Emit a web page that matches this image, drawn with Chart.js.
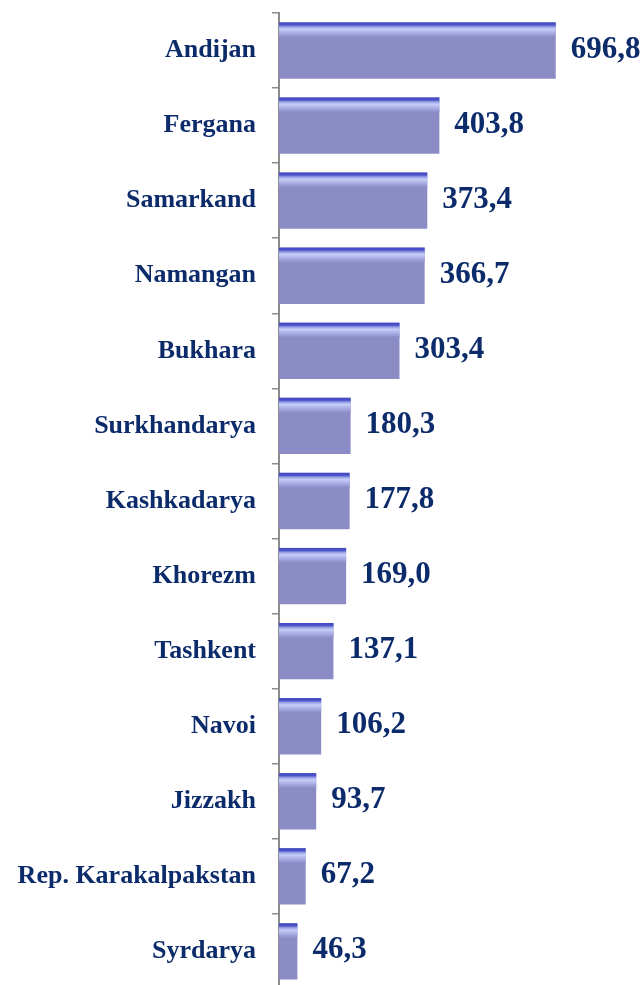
<!DOCTYPE html>
<html>
<head>
<meta charset="utf-8">
<script src="https://cdn.jsdelivr.net/npm/chart.js@4/dist/chart.umd.min.js"></script>
<style>
  html, body { margin: 0; padding: 0; background: #fff; overflow: hidden; }
  #wrap { width: 644px; height: 990px; position: relative; }
</style>
</head>
<body>
<div id="wrap"><canvas id="c"></canvas></div>
<script>
const categories = ["Andijan", "Fergana", "Samarkand", "Namangan", "Bukhara", "Surkhandarya", "Kashkadarya", "Khorezm", "Tashkent", "Navoi", "Jizzakh", "Rep. Karakalpakstan", "Syrdarya"];
const values = [696.8, 403.8, 373.4, 366.7, 303.4, 180.3, 177.8, 169.0, 137.1, 106.2, 93.7, 67.2, 46.3];
const valueLabels = ["696,8", "403,8", "373,4", "366,7", "303,4", "180,3", "177,8", "169,0", "137,1", "106,2", "93,7", "67,2", "46,3"];

const MAIN = '#8b8bc5';
const NAVY = '#0c2b6b';

const barShine = {
  id: 'barShine',
  afterDatasetsDraw(chart) {
    const ctx = chart.ctx;
    const meta = chart.getDatasetMeta(0);
    meta.data.forEach((el, i) => {
      const p = el.getProps(['x', 'y', 'base', 'height'], true);
      const top = p.y - p.height / 2;
      const h = 15;
      const g = ctx.createLinearGradient(0, top, 0, top + h);
      g.addColorStop(0, '#3f46c2');
      g.addColorStop(0.17, '#4c54c8');
      g.addColorStop(0.3, '#9aa2e6');
      g.addColorStop(0.45, '#c6cef7');
      g.addColorStop(0.65, '#aeb4ea');
      g.addColorStop(1, MAIN);
      ctx.save();
      ctx.fillStyle = g;
      ctx.fillRect(Math.min(p.base, p.x), top, Math.abs(p.x - p.base), h);
      ctx.restore();
    });
  }
};

const valueText = {
  id: 'valueText',
  afterDatasetsDraw(chart) {
    const ctx = chart.ctx;
    const meta = chart.getDatasetMeta(0);
    ctx.save();
    ctx.font = 'bold 31px "Liberation Serif", "Times New Roman", serif';
    ctx.fillStyle = NAVY;
    ctx.textAlign = 'left';
    ctx.textBaseline = 'alphabetic';
    meta.data.forEach((el, i) => {
      const p = el.getProps(['x', 'y'], true);
      ctx.fillText(valueLabels[i], p.x + 15, p.y + 7);
    });
    ctx.restore();
  }
};

new Chart(document.getElementById('c'), {
  type: 'bar',
  data: {
    labels: categories,
    datasets: [{
      data: values,
      backgroundColor: MAIN,
      borderWidth: 0,
      categoryPercentage: 0.75,
      barPercentage: 1.0
    }]
  },
  options: {
    indexAxis: 'y',
    responsive: true,
    maintainAspectRatio: false,
    animation: false,
    layout: { padding: { top: 13, bottom: 1, left: 0, right: 87 } },
    plugins: { legend: { display: false }, tooltip: { enabled: false } },
    scales: {
      x: {
        display: false,
        min: 0,
        max: 700
      },
      y: {
        offset: true,
        afterFit(scale) {
          scale.width = 279;
          scale.paddingTop = 0;
          scale.paddingBottom = 0;
        },
        grid: {
          offset: true,
          drawOnChartArea: false,
          drawTicks: true,
          tickLength: 7,
          color: '#8c8c8c',
          lineWidth: 1.5
        },
        border: { display: true, color: '#8c8c8c', width: 2 },
        ticks: {
          color: NAVY,
          padding: 16,
          font: { family: '"Liberation Serif", "Times New Roman", serif', size: 26, weight: 'bold' }
        }
      }
    }
  },
  plugins: [barShine, valueText]
});
</script>
</body>
</html>
